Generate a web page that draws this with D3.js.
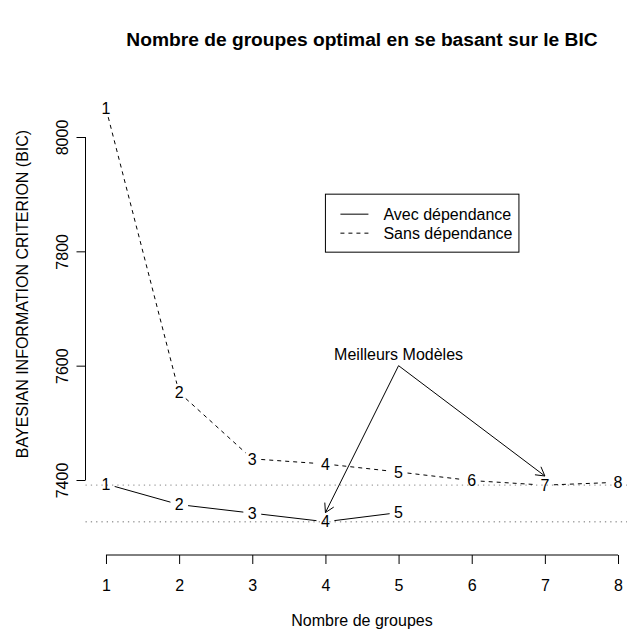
<!DOCTYPE html>
<html>
<head>
<meta charset="utf-8">
<script src="https://cdn.jsdelivr.net/npm/d3@7"></script>
<style>
  body { margin: 0; background: #fff; }
  svg { font-family: "Liberation Sans", Arial, Helvetica, sans-serif; }
</style>
</head>
<body>
<svg id="chart"></svg>
<script>
// data
const groupes = [1, 2, 3, 4, 5, 6, 7, 8];
const avecDependance = [7393, 7357, 7342, 7327, 7343];
const sansDependance = [8050, 7553, 7437, 7428, 7414, 7399, 7391, 7396];
const yTicks = [7400, 7600, 7800, 8000];
const seriesNames = ["Avec dépendance", "Sans dépendance"];
const annotation = { label: "Meilleurs Modèles", x: 5, y: 7620, from: [5, 7600] };
const arrowTargets = [[4, 7343], [7, 7407]];

const svgWidth = 627;
const svgHeight = 630;
const fs = 16;

const svg = d3.select("#chart").attr("width", svgWidth).attr("height", svgHeight);

// R style 4% padding on x
const pad = 0.04 * (d3.max(groupes) - d3.min(groupes));
const x = d3.scaleLinear()
  .domain([d3.min(groupes) - pad, d3.max(groupes) + pad])
  .range([85.5, 638.5]);
const y = d3.scaleLinear().domain([7400, 8000]).range([480, 137]);
const axisY = 555;

// title
svg.append("text")
  .attr("x", (x.range()[0] + x.range()[1]) / 2)
  .attr("y", 46)
  .attr("text-anchor", "middle")
  .attr("font-weight", "bold")
  .attr("font-size", fs * 1.2)
  .text("Nombre de groupes optimal en se basant sur le BIC");

// x axis
const xAxis = svg.append("g")
  .attr("transform", `translate(0,${axisY})`)
  .call(d3.axisBottom(x).tickValues(groupes).tickSize(9).tickSizeOuter(0).tickFormat(d3.format("d")));
xAxis.select(".domain").remove();
xAxis.append("line")
  .attr("x1", x(1)).attr("x2", x(8))
  .attr("stroke", "#000");
xAxis.selectAll(".tick line").attr("stroke", "#000");
xAxis.selectAll(".tick text")
  .attr("y", 36).attr("dy", null)
  .attr("font-size", fs).attr("fill", "#000")
  .attr("font-family", null);

svg.append("text")
  .attr("x", (x.range()[0] + x.range()[1]) / 2)
  .attr("y", 626)
  .attr("text-anchor", "middle")
  .attr("font-size", fs)
  .text("Nombre de groupes");

// y axis
const left = x.range()[0];
const yAxis = svg.append("g")
  .attr("transform", `translate(${left},0)`)
  .call(d3.axisLeft(y).tickValues(yTicks).tickSize(9).tickSizeOuter(0).tickFormat(d3.format("d")));
yAxis.select(".domain").remove();
yAxis.append("line")
  .attr("y1", y(7400)).attr("y2", y(8000))
  .attr("stroke", "#000");
yAxis.selectAll(".tick line").attr("stroke", "#000");
yAxis.selectAll(".tick text")
  .attr("x", null).attr("dy", null)
  .attr("transform", "translate(-18,0) rotate(-90)")
  .attr("text-anchor", "middle")
  .attr("font-size", fs).attr("fill", "#000")
  .attr("font-family", null);

svg.append("text")
  .attr("transform", `translate(28,294) rotate(-90)`)
  .attr("text-anchor", "middle")
  .attr("font-size", fs)
  .text("BAYESIAN INFORMATION CRITERION (BIC)");

// dotted reference lines at each series minimum
[d3.min(sansDependance), d3.min(avecDependance)].forEach((v) => {
  svg.append("line")
    .attr("x1", left).attr("x2", x.range()[1])
    .attr("y1", y(v)).attr("y2", y(v))
    .attr("stroke", "#a0a0a0")
    .attr("stroke-width", 1.3)
    .attr("stroke-dasharray", "1.3,4");
});

// lines with gaps around the number labels (type = "b")
const gap = 9;
const drawSeries = (values, dash) => {
  const pts = values.map((v, i) => [x(groupes[i]), y(v)]);
  for (let i = 0; i < pts.length - 1; i++) {
    const [x0, y0] = pts[i];
    const [x1, y1] = pts[i + 1];
    const len = Math.hypot(x1 - x0, y1 - y0);
    const ux = (x1 - x0) / len, uy = (y1 - y0) / len;
    svg.append("line")
      .attr("x1", x0 + ux * gap).attr("y1", y0 + uy * gap)
      .attr("x2", x1 - ux * gap).attr("y2", y1 - uy * gap)
      .attr("stroke", "#000")
      .attr("stroke-dasharray", dash);
  }
  svg.selectAll(null).data(pts).enter().append("text")
    .attr("x", (d) => d[0])
    .attr("y", (d) => d[1])
    .attr("dy", "0.36em")
    .attr("text-anchor", "middle")
    .attr("font-size", fs)
    .text((d, i) => groupes[i]);
};
drawSeries(avecDependance, null);
drawSeries(sansDependance, "4,4");

// legend
const lgX = x(4), lgY = y(7900);
const lg = svg.append("g").attr("transform", `translate(${lgX},${lgY})`);
lg.append("rect")
  .attr("width", 193.5).attr("height", 58)
  .attr("fill", "none").attr("stroke", "#000");
seriesNames.forEach((name, i) => {
  const ry = 20 + i * 19;
  lg.append("line")
    .attr("x1", 15).attr("x2", 43)
    .attr("y1", ry).attr("y2", ry)
    .attr("stroke", "#000")
    .attr("stroke-dasharray", i === 0 ? null : "4,4");
  lg.append("text")
    .attr("x", 58).attr("y", ry).attr("dy", "0.36em")
    .attr("font-size", fs)
    .text(name);
});

// annotation with arrows
svg.append("text")
  .attr("x", x(annotation.x))
  .attr("y", y(annotation.y))
  .attr("dy", "0.36em")
  .attr("text-anchor", "middle")
  .attr("font-size", fs)
  .text(annotation.label);

const headLen = 10;
arrowTargets.forEach(([tx, ty]) => {
  const x0 = x(annotation.from[0]), y0 = y(annotation.from[1]);
  const x1 = x(tx), y1 = y(ty);
  svg.append("line")
    .attr("x1", x0).attr("y1", y0).attr("x2", x1).attr("y2", y1)
    .attr("stroke", "#000");
  const ang = Math.atan2(y1 - y0, x1 - x0);
  [-Math.PI / 6, Math.PI / 6].forEach((a) => {
    svg.append("line")
      .attr("x1", x1).attr("y1", y1)
      .attr("x2", x1 - headLen * Math.cos(ang + a))
      .attr("y2", y1 - headLen * Math.sin(ang + a))
      .attr("stroke", "#000");
  });
});
</script>
</body>
</html>
